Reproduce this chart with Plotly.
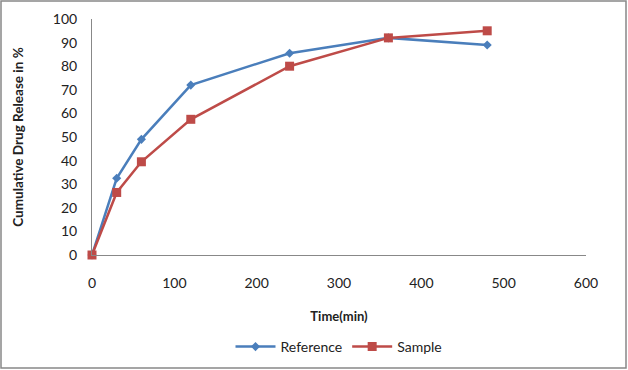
import plotly.graph_objects as go

time_min = [0, 30, 60, 120, 240, 360, 480]
reference = [0, 32.5, 49, 72, 85.5, 92, 89]
sample = [0, 26.5, 39.5, 57.5, 80, 92, 95]

x_ticks = [0, 100, 200, 300, 400, 500, 600]
y_ticks = [0, 10, 20, 30, 40, 50, 60, 70, 80, 90, 100]

W, H = 628, 370
L, R, T, B = 92, 42, 19, 115
pw, ph = W - L - R, H - T - B

fig = go.Figure()
fig.add_trace(go.Scatter(x=time_min, y=reference, name="Reference", mode="lines+markers",
                         cliponaxis=False,
                         line=dict(color="#4a7ebb", width=2.5),
                         marker=dict(symbol="diamond", size=7, color="#4a7ebb")))
fig.add_trace(go.Scatter(x=time_min, y=sample, name="Sample", mode="lines+markers",
                         cliponaxis=False,
                         line=dict(color="#be4b48", width=2.5),
                         marker=dict(symbol="square", size=9, color="#be4b48")))

font = "Lato, 'Open Sans', sans-serif"
fig.update_layout(
    width=W, height=H,
    margin=dict(l=L, r=R, t=T, b=B, autoexpand=False),
    paper_bgcolor="white", plot_bgcolor="white",
    font=dict(family=font, size=14, color="#222"),
    showlegend=True,
    legend=dict(orientation="h", x=0.5, xanchor="center", y=(255 - 347) / ph, yanchor="middle",
                font=dict(size=14), itemwidth=40),
    xaxis=dict(range=[0, 600], tickvals=x_ticks, showgrid=False, zeroline=False,
               showline=True, linecolor="#888", linewidth=1,
               ticks="", ticklabelstandoff=15, tickfont=dict(size=14),
               title=dict(text="<b>Time(min)</b>", font=dict(size=13), standoff=22)),
    yaxis=dict(range=[0, 100], tickvals=y_ticks, showgrid=False, zeroline=False,
               showline=True, linecolor="#888", linewidth=1,
               ticks="", ticklabelstandoff=11, tickfont=dict(size=14),
               title=dict(text="<b>Cumulative Drug Release in %</b>", font=dict(size=13.5), standoff=26)),
    shapes=[dict(type="rect", xref="paper", yref="paper",
                 x0=(1 - L) / pw, x1=(W - 2 - L) / pw,
                 y0=(T + ph - (H - 2)) / ph, y1=(T + ph - 1) / ph,
                 line=dict(color="#888", width=1.5))],
)

fig.write_html("out.html")
